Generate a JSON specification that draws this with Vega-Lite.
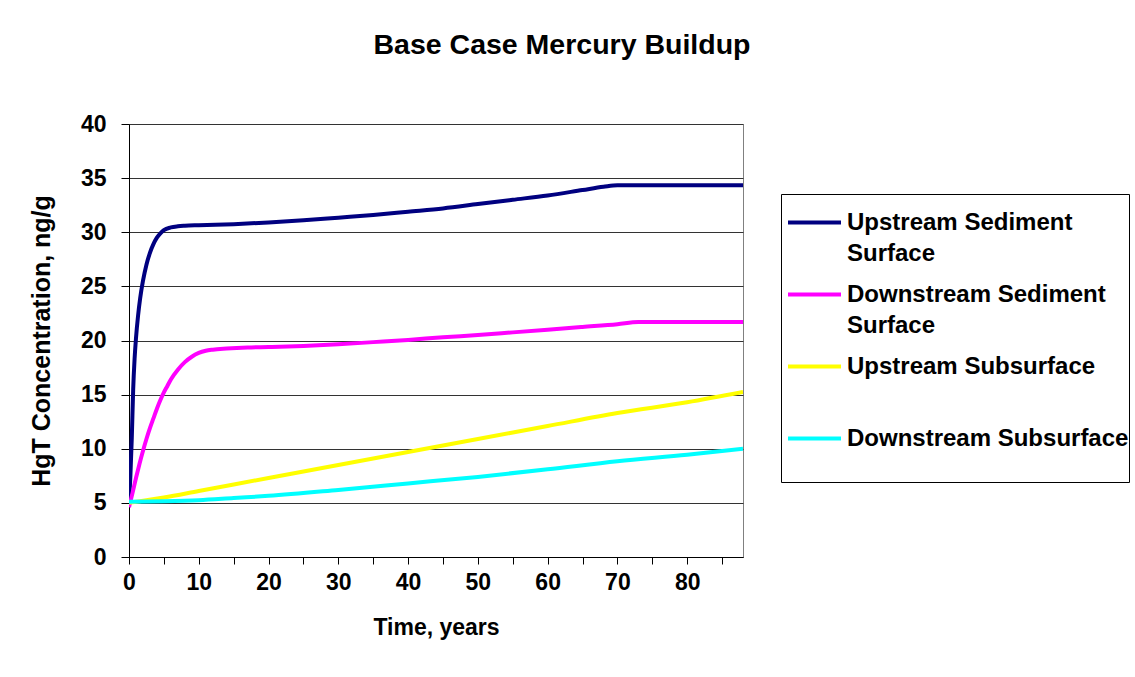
{
  "$schema": "https://vega.github.io/schema/vega-lite/v6.json",
  "width": 614,
  "height": 433,
  "autosize": {"type": "none"},
  "padding": {"left": 129, "top": 124, "right": 392, "bottom": 120},
  "background": "white",
  "title": {
    "text": "Base Case Mercury Buildup",
    "font": "Liberation Sans",
    "fontSize": 28.5,
    "fontWeight": "bold",
    "color": "black",
    "anchor": "middle",
    "frame": "group",
    "dx": 126,
    "offset": 54
  },
  "data": {
    "values": [
      {"t": 0, "v": 5.2, "s": "Upstream Sediment Surface"},
      {"t": 0.2, "v": 7.5, "s": "Upstream Sediment Surface"},
      {"t": 0.4, "v": 11.0, "s": "Upstream Sediment Surface"},
      {"t": 0.6, "v": 15.5, "s": "Upstream Sediment Surface"},
      {"t": 0.8, "v": 18.3, "s": "Upstream Sediment Surface"},
      {"t": 1.0, "v": 20.2, "s": "Upstream Sediment Surface"},
      {"t": 1.3, "v": 22.3, "s": "Upstream Sediment Surface"},
      {"t": 1.6, "v": 23.9, "s": "Upstream Sediment Surface"},
      {"t": 2.0, "v": 25.5, "s": "Upstream Sediment Surface"},
      {"t": 2.5, "v": 27.0, "s": "Upstream Sediment Surface"},
      {"t": 3.0, "v": 28.1, "s": "Upstream Sediment Surface"},
      {"t": 3.5, "v": 28.9, "s": "Upstream Sediment Surface"},
      {"t": 4.0, "v": 29.5, "s": "Upstream Sediment Surface"},
      {"t": 4.5, "v": 29.9, "s": "Upstream Sediment Surface"},
      {"t": 5, "v": 30.2, "s": "Upstream Sediment Surface"},
      {"t": 6, "v": 30.45, "s": "Upstream Sediment Surface"},
      {"t": 7, "v": 30.55, "s": "Upstream Sediment Surface"},
      {"t": 8, "v": 30.6, "s": "Upstream Sediment Surface"},
      {"t": 10, "v": 30.65, "s": "Upstream Sediment Surface"},
      {"t": 15, "v": 30.75, "s": "Upstream Sediment Surface"},
      {"t": 20, "v": 30.9, "s": "Upstream Sediment Surface"},
      {"t": 25, "v": 31.1, "s": "Upstream Sediment Surface"},
      {"t": 30, "v": 31.35, "s": "Upstream Sediment Surface"},
      {"t": 35, "v": 31.6, "s": "Upstream Sediment Surface"},
      {"t": 40, "v": 31.9, "s": "Upstream Sediment Surface"},
      {"t": 45, "v": 32.2, "s": "Upstream Sediment Surface"},
      {"t": 50, "v": 32.6, "s": "Upstream Sediment Surface"},
      {"t": 55, "v": 33.0, "s": "Upstream Sediment Surface"},
      {"t": 60, "v": 33.4, "s": "Upstream Sediment Surface"},
      {"t": 65, "v": 33.9, "s": "Upstream Sediment Surface"},
      {"t": 68, "v": 34.2, "s": "Upstream Sediment Surface"},
      {"t": 70, "v": 34.35, "s": "Upstream Sediment Surface"},
      {"t": 75, "v": 34.35, "s": "Upstream Sediment Surface"},
      {"t": 80, "v": 34.35, "s": "Upstream Sediment Surface"},
      {"t": 88, "v": 34.35, "s": "Upstream Sediment Surface"},

      {"t": 0, "v": 4.6, "s": "Downstream Sediment Surface"},
      {"t": 0.5, "v": 5.9, "s": "Downstream Sediment Surface"},
      {"t": 1, "v": 7.3, "s": "Downstream Sediment Surface"},
      {"t": 1.5, "v": 8.6, "s": "Downstream Sediment Surface"},
      {"t": 2, "v": 9.8, "s": "Downstream Sediment Surface"},
      {"t": 2.5, "v": 10.9, "s": "Downstream Sediment Surface"},
      {"t": 3, "v": 11.9, "s": "Downstream Sediment Surface"},
      {"t": 3.5, "v": 12.8, "s": "Downstream Sediment Surface"},
      {"t": 4, "v": 13.7, "s": "Downstream Sediment Surface"},
      {"t": 4.5, "v": 14.5, "s": "Downstream Sediment Surface"},
      {"t": 5, "v": 15.2, "s": "Downstream Sediment Surface"},
      {"t": 5.5, "v": 15.8, "s": "Downstream Sediment Surface"},
      {"t": 6, "v": 16.4, "s": "Downstream Sediment Surface"},
      {"t": 7, "v": 17.3, "s": "Downstream Sediment Surface"},
      {"t": 8, "v": 18.0, "s": "Downstream Sediment Surface"},
      {"t": 9, "v": 18.5, "s": "Downstream Sediment Surface"},
      {"t": 10, "v": 18.85, "s": "Downstream Sediment Surface"},
      {"t": 11, "v": 19.05, "s": "Downstream Sediment Surface"},
      {"t": 12, "v": 19.15, "s": "Downstream Sediment Surface"},
      {"t": 14, "v": 19.25, "s": "Downstream Sediment Surface"},
      {"t": 17, "v": 19.35, "s": "Downstream Sediment Surface"},
      {"t": 20, "v": 19.4, "s": "Downstream Sediment Surface"},
      {"t": 25, "v": 19.5, "s": "Downstream Sediment Surface"},
      {"t": 30, "v": 19.65, "s": "Downstream Sediment Surface"},
      {"t": 35, "v": 19.85, "s": "Downstream Sediment Surface"},
      {"t": 40, "v": 20.05, "s": "Downstream Sediment Surface"},
      {"t": 45, "v": 20.3, "s": "Downstream Sediment Surface"},
      {"t": 50, "v": 20.5, "s": "Downstream Sediment Surface"},
      {"t": 55, "v": 20.75, "s": "Downstream Sediment Surface"},
      {"t": 60, "v": 21.0, "s": "Downstream Sediment Surface"},
      {"t": 65, "v": 21.25, "s": "Downstream Sediment Surface"},
      {"t": 70, "v": 21.5, "s": "Downstream Sediment Surface"},
      {"t": 73, "v": 21.7, "s": "Downstream Sediment Surface"},
      {"t": 80, "v": 21.7, "s": "Downstream Sediment Surface"},
      {"t": 88, "v": 21.7, "s": "Downstream Sediment Surface"},

      {"t": 0, "v": 5.0, "s": "Upstream Subsurface"},
      {"t": 5, "v": 5.5, "s": "Upstream Subsurface"},
      {"t": 10, "v": 6.1, "s": "Upstream Subsurface"},
      {"t": 20, "v": 7.3, "s": "Upstream Subsurface"},
      {"t": 30, "v": 8.5, "s": "Upstream Subsurface"},
      {"t": 40, "v": 9.7, "s": "Upstream Subsurface"},
      {"t": 50, "v": 10.9, "s": "Upstream Subsurface"},
      {"t": 60, "v": 12.1, "s": "Upstream Subsurface"},
      {"t": 70, "v": 13.3, "s": "Upstream Subsurface"},
      {"t": 80, "v": 14.3, "s": "Upstream Subsurface"},
      {"t": 88, "v": 15.25, "s": "Upstream Subsurface"},

      {"t": 0, "v": 5.1, "s": "Downstream Subsurface"},
      {"t": 5, "v": 5.15, "s": "Downstream Subsurface"},
      {"t": 10, "v": 5.25, "s": "Downstream Subsurface"},
      {"t": 15, "v": 5.45, "s": "Downstream Subsurface"},
      {"t": 20, "v": 5.65, "s": "Downstream Subsurface"},
      {"t": 30, "v": 6.2, "s": "Downstream Subsurface"},
      {"t": 40, "v": 6.8, "s": "Downstream Subsurface"},
      {"t": 50, "v": 7.4, "s": "Downstream Subsurface"},
      {"t": 60, "v": 8.1, "s": "Downstream Subsurface"},
      {"t": 70, "v": 8.85, "s": "Downstream Subsurface"},
      {"t": 80, "v": 9.45, "s": "Downstream Subsurface"},
      {"t": 88, "v": 10.0, "s": "Downstream Subsurface"}
    ]
  },
  "mark": {"type": "line", "strokeWidth": 4, "interpolate": "monotone", "clip": true},
  "encoding": {
    "x": {
      "field": "t",
      "type": "quantitative",
      "scale": {"domain": [0, 88], "nice": false, "zero": false},
      "axis": {
        "title": "Time, years",
        "values": [0, 5, 10, 15, 20, 25, 30, 35, 40, 45, 50, 55, 60, 65, 70, 75, 80, 85],
        "labelExpr": "datum.value % 10 == 0 ? datum.label : ''",
        "labelFlush": false,
        "grid": false,
        "tickSize": 7,
        "labelPadding": 7,
        "labelFontSize": 23,
        "titleFontSize": 23,
        "titlePadding": 22
      }
    },
    "y": {
      "field": "v",
      "type": "quantitative",
      "scale": {"domain": [0, 40], "nice": false},
      "axis": {
        "title": "HgT Concentration, ng/g",
        "values": [0, 5, 10, 15, 20, 25, 30, 35, 40],
        "labelFlush": false,
        "grid": true,
        "tickSize": 8,
        "labelPadding": 15,
        "labelFontSize": 23,
        "titleFontSize": 25,
        "titlePadding": 26
      }
    },
    "color": {
      "field": "s",
      "type": "nominal",
      "scale": {
        "domain": ["Upstream Sediment Surface", "Downstream Sediment Surface", "Upstream Subsurface", "Downstream Subsurface"],
        "range": ["#000080", "#FF00FF", "#FFFF00", "#00FFFF"]
      },
      "legend": {
        "title": null,
        "orient": "none",
        "legendX": 652,
        "legendY": 70,
        "labelExpr": "datum.label == 'Upstream Sediment Surface' ? ['Upstream Sediment', 'Surface'] : datum.label == 'Downstream Sediment Surface' ? ['Downstream Sediment', 'Surface'] : [datum.label, '']",
        "symbolType": "stroke",
        "symbolSize": 2809,
        "symbolStrokeWidth": 4,
        "labelFont": "Liberation Sans",
        "labelFontSize": 24,
        "labelFontWeight": "bold",
        "labelColor": "black",
        "labelLimit": 500,
        "labelOffset": 4,
        "labelBaseline": "middle",
        "rowPadding": -5,
        "padding": 0,
        "symbolOffset": 5,
        "strokeColor": "black",
        "fillColor": "white"
      }
    },
    "order": {"field": "t", "type": "quantitative"}
  },
  "config": {
    "font": "Liberation Sans",
    "style": {"guide-label": {"lineHeight": 31}},
    "view": {"stroke": "#808080", "strokeWidth": 1},
    "axis": {
      "labelFont": "Liberation Sans",
      "labelFontWeight": "bold",
      "labelColor": "black",
      "titleFont": "Liberation Sans",
      "titleFontWeight": "bold",
      "titleColor": "black",
      "domainColor": "black",
      "domainWidth": 1,
      "tickColor": "black",
      "tickWidth": 1,
      "gridColor": "#333333",
      "gridWidth": 1
    }
  }
}
